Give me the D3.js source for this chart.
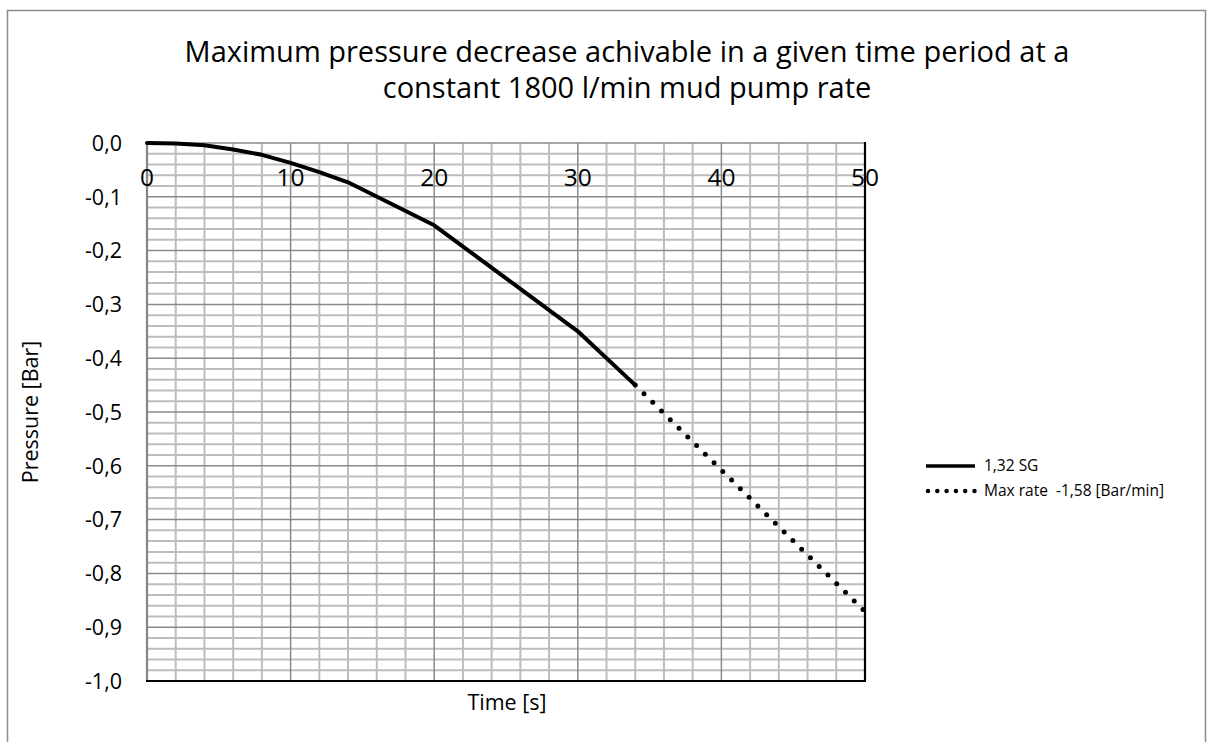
<!DOCTYPE html>
<html>
<head>
<meta charset="utf-8">
<script src="https://cdn.jsdelivr.net/npm/d3@7"></script>
<style>
  html, body { margin: 0; padding: 0; background: #fff; }
  svg { display: block; }
  text { font-family: "Open Sans", "Noto Sans", sans-serif; fill: #000; white-space: pre; }
</style>
</head>
<body>
<svg id="chart" width="1213" height="742"></svg>
<script>
// ---- data ----
const timeSG = [0, 2, 4, 6, 8, 10, 12, 14, 20, 30, 34];
const pressureSG = [0, -0.001, -0.004, -0.012, -0.022, -0.037, -0.054, -0.073, -0.153, -0.35, -0.45];
const timeMax = [34, 50];
const pressureMax = [-0.45, -0.871];
const xTickLabels = ["0", "10", "20", "30", "40", "50"];
const yTickLabels = ["0,0", "-0,1", "-0,2", "-0,3", "-0,4", "-0,5", "-0,6", "-0,7", "-0,8", "-0,9", "-1,0"];
const seriesNames = ["1,32 SG", "Max rate  -1,58 [Bar/min]"];
const titleLines = ["Maximum pressure decrease achivable in a given time period at a", "constant 1800 l/min mud pump rate"];

// ---- layout ----
const svg = d3.select("#chart");
const x = d3.scaleLinear().domain([0, 50]).range([147, 865]);
const y = d3.scaleLinear().domain([0, -1]).range([143, 681]);

// outer border
svg.append("rect").attr("x", 7.5).attr("y", 10.5).attr("width", 1198).attr("height", 760)
  .attr("fill", "#fff").attr("stroke", "#8c8c8c").attr("stroke-width", 1.5);

// title
svg.append("g").selectAll("text").data(titleLines).join("text")
  .attr("x", 627).attr("y", (d, i) => 62 + i * 36)
  .attr("text-anchor", "middle").attr("font-size", 29).text(d => d);

const g = svg.append("g");

// minor grid
const xMinor = d3.range(0, 50.001, 2).map(v => +v.toFixed(4));
const yMinor = d3.range(0, 50.5, 1).map(v => -v / 50);
g.append("g").selectAll("line").data(xMinor.filter(v => v % 10 !== 0)).join("line")
  .attr("x1", d => x(d)).attr("x2", d => x(d)).attr("y1", y(0)).attr("y2", y(-1))
  .attr("stroke", "#bdbdbd").attr("stroke-width", 2);
g.append("g").selectAll("line").data(yMinor.filter((v, i) => i % 5 !== 0)).join("line")
  .attr("x1", x(0)).attr("x2", x(50)).attr("y1", d => y(d)).attr("y2", d => y(d))
  .attr("stroke", "#bdbdbd").attr("stroke-width", 2);

// major grid
const xMajor = x.ticks(5);
const yMajor = y.ticks(10);
g.append("g").selectAll("line").data(xMajor).join("line")
  .attr("x1", d => x(d)).attr("x2", d => x(d)).attr("y1", y(0)).attr("y2", y(-1))
  .attr("stroke", "#8a8a8a").attr("stroke-width", 1.5);
g.append("g").selectAll("line").data(yMajor).join("line")
  .attr("x1", x(0)).attr("x2", x(50)).attr("y1", d => y(d)).attr("y2", d => y(d))
  .attr("stroke", "#8a8a8a").attr("stroke-width", 1.5);

// axes lines: left (value axis) gray, bottom & right black
g.append("line").attr("x1", x(0)).attr("x2", x(0)).attr("y1", y(0)).attr("y2", y(-1))
  .attr("stroke", "#858585").attr("stroke-width", 2.2);
g.append("line").attr("x1", x(0) - 1).attr("x2", x(50) + 1).attr("y1", y(-1)).attr("y2", y(-1))
  .attr("stroke", "#000").attr("stroke-width", 2.2);
g.append("line").attr("x1", x(50)).attr("x2", x(50)).attr("y1", y(0) - 1).attr("y2", y(-1))
  .attr("stroke", "#000").attr("stroke-width", 2.2);

// x tick labels (axis crosses at 0, labels just under top)
g.append("g").selectAll("text").data(xMajor).join("text")
  .attr("x", d => x(d)).attr("y", 186)
  .attr("text-anchor", "middle").attr("font-size", 24.5)
  .text((d, i) => xTickLabels[i]);

// y tick labels
g.append("g").selectAll("text").data(yMajor).join("text")
  .attr("x", 122).attr("y", d => y(d)).attr("dy", "0.36em")
  .attr("text-anchor", "end").attr("font-size", 21.5)
  .text((d, i) => yTickLabels[i]);

// axis titles
svg.append("text").attr("x", 507).attr("y", 710).attr("text-anchor", "middle")
  .attr("font-size", 21.5).text("Time [s]");
svg.append("text").attr("transform", `translate(38,${y(-0.5)}) rotate(-90)`)
  .attr("text-anchor", "middle").attr("font-size", 21.5).text("Pressure [Bar]");

// series
const line = d3.line().x(d => x(d[0])).y(d => y(d[1]));
g.append("path").datum(d3.zip(timeSG, pressureSG)).attr("d", line)
  .attr("fill", "none").attr("stroke", "#000").attr("stroke-width", 4)
  .attr("stroke-linejoin", "round").attr("stroke-linecap", "round");
g.append("path").datum(d3.zip(timeMax, pressureMax)).attr("d", line)
  .attr("fill", "none").attr("stroke", "#000").attr("stroke-width", 5)
  .attr("stroke-dasharray", "0 12.3").attr("stroke-linecap", "round");

// legend
const leg = svg.append("g");
const legY = [466, 491];
leg.append("line").attr("x1", 926).attr("x2", 975).attr("y1", legY[0]).attr("y2", legY[0])
  .attr("stroke", "#000").attr("stroke-width", 3.5);
leg.append("line").attr("x1", 928).attr("x2", 975).attr("y1", legY[1]).attr("y2", legY[1])
  .attr("stroke", "#000").attr("stroke-width", 4.5)
  .attr("stroke-dasharray", "0 9.3").attr("stroke-linecap", "round");
leg.selectAll("text").data(seriesNames).join("text")
  .attr("x", 984).attr("y", (d, i) => legY[i]).attr("dy", "0.35em")
  .attr("font-size", 15.5).text(d => d);
</script>
</body>
</html>
